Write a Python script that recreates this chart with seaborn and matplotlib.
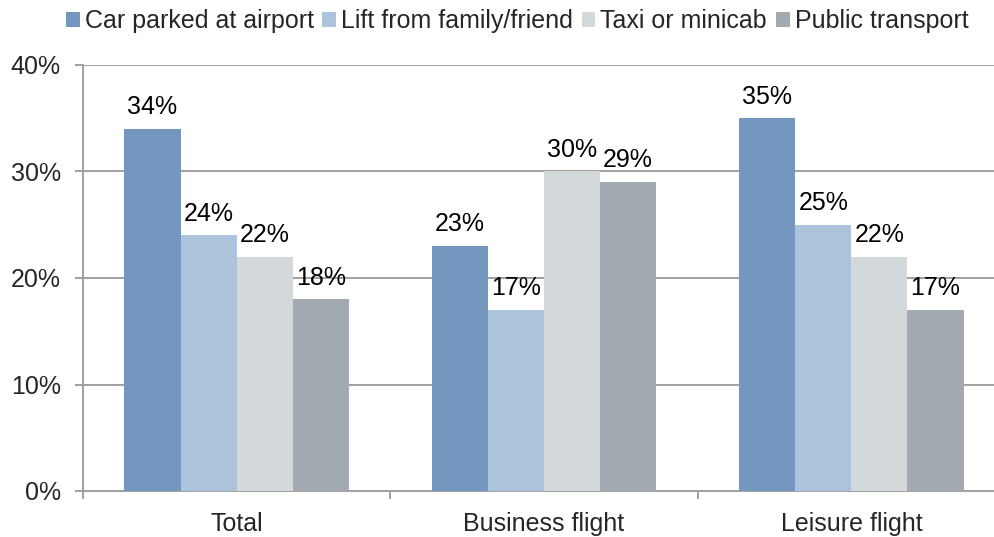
import matplotlib
matplotlib.use("Agg")
import matplotlib.pyplot as plt
import seaborn as sns
import pandas as pd
from matplotlib.ticker import FixedLocator, PercentFormatter
from matplotlib.patches import Patch

categories = ["Total", "Business flight", "Leisure flight"]
modes = ["Car parked at airport", "Lift from family/friend", "Taxi or minicab", "Public transport"]
car_parked = [34, 23, 35]
lift = [24, 17, 25]
taxi = [22, 30, 22]
public = [18, 29, 17]

colors = ["#7397BE", "#ADC2DB", "#D3D8DB", "#A3AAB2"]

rows = []
for mode, vals in zip(modes, [car_parked, lift, taxi, public]):
    for cat, v in zip(categories, vals):
        rows.append({"category": cat, "mode": mode, "share": v})
df = pd.DataFrame(rows)

sns.set_theme(style="white")
plt.rcParams["font.family"] = ["Liberation Sans", "DejaVu Sans"]

fs = 18
fig = plt.figure(figsize=(9.95, 5.37), dpi=100)
ax = fig.add_axes([83 / 995, 46 / 537, 922 / 995, 426 / 537])

sns.barplot(data=df, x="category", y="share", hue="mode", order=categories,
            hue_order=modes, palette=colors, width=0.73, saturation=1,
            linewidth=0, legend=False, ax=ax, zorder=3)

for container in ax.containers:
    ax.bar_label(container, labels=[f"{v:.0f}%" for v in container.datavalues],
                 padding=7, fontsize=fs, color="black")

grid_color = "#A0A0A0"
ax.set_ylim(0, 40)
ax.set_xlim(-0.5, 2.5)
ax.yaxis.set_major_locator(FixedLocator([0, 10, 20, 30, 40]))
ax.yaxis.set_major_formatter(PercentFormatter(decimals=0))
ax.grid(axis="y", color=grid_color, linewidth=1.4, zorder=0)
ax.set_axisbelow(True)

for side in ["top", "right"]:
    ax.spines[side].set_visible(False)
for side in ["left", "bottom"]:
    ax.spines[side].set_color(grid_color)
    ax.spines[side].set_linewidth(1.4)

ax.tick_params(axis="y", which="major", length=6, width=1.4, color=grid_color,
               labelsize=fs, pad=10, left=True)
ax.tick_params(axis="x", which="major", length=0, labelsize=fs, pad=15)
ax.xaxis.set_minor_locator(FixedLocator([-0.5, 0.5, 1.5, 2.5]))
ax.tick_params(axis="x", which="minor", length=6, width=1.4, color=grid_color,
               bottom=True)
ax.set_xlabel("")
ax.set_ylabel("")

handles = [Patch(facecolor=c, edgecolor="none", label=m) for c, m in zip(colors, modes)]
fig.legend(handles=handles, loc="center", bbox_to_anchor=(517 / 995, 1 - 21 / 537),
           ncol=4, frameon=False, fontsize=fs, handlelength=0.55, handleheight=0.55,
           handletextpad=0.2, columnspacing=0.35, borderaxespad=0)

fig.savefig("out.png", dpi=100)
